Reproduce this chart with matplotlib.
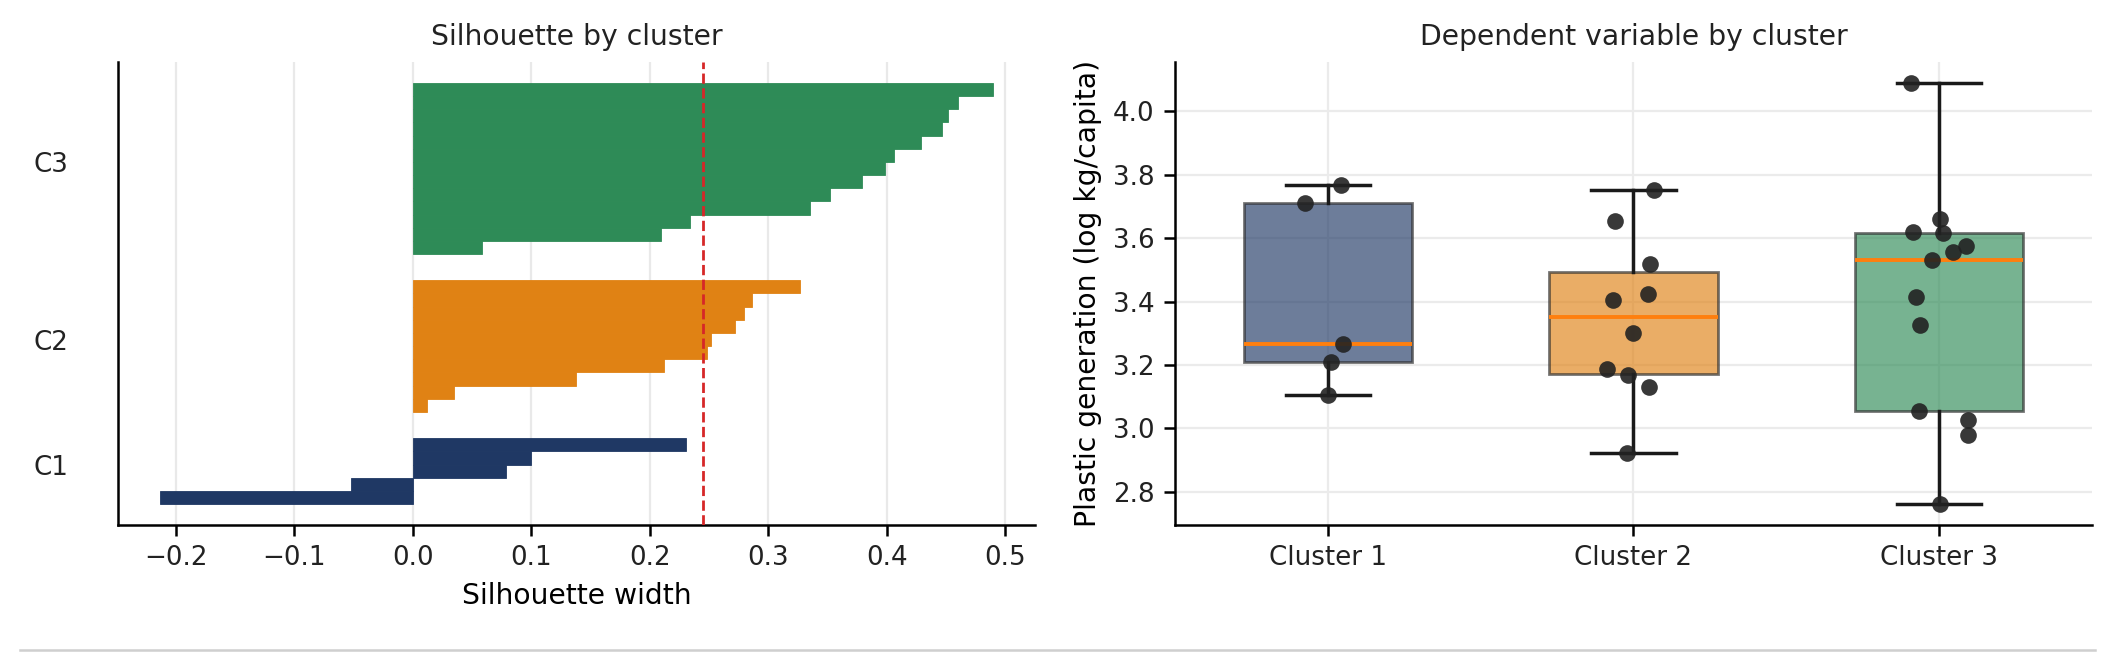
"""Silhouette widths and dependent variable per cluster (two panels)."""

import matplotlib

matplotlib.use("Agg")
import matplotlib.pyplot as plt
import numpy as np
from matplotlib.lines import Line2D

# Silhouette width per sample
sil_c1 = [0.231, 0.100, 0.079, -0.052, -0.2135]
sil_c2 = [0.327, 0.286, 0.280, 0.272, 0.252, 0.248, 0.212, 0.138, 0.035, 0.0125]
sil_c3 = [0.490, 0.460, 0.452, 0.4465, 0.429, 0.406, 0.399, 0.379, 0.352,
          0.335, 0.234, 0.2095, 0.0585]

# Plastic generation (log kg/capita) per country in each cluster
dep_c1 = [3.767, 3.711, 3.265, 3.211, 3.107]
dep_c2 = [3.752, 3.653, 3.518, 3.424, 3.404, 3.300, 3.186, 3.167, 3.130, 2.924]
dep_c3 = [4.089, 3.660, 3.618, 3.615, 3.575, 3.556, 3.532, 3.413, 3.325,
          3.055, 3.028, 2.978, 2.762]

# horizontal jitter of the strip points (category units)
jit_c1 = [0.044, -0.074, 0.049, 0.012, 0.0]
jit_c2 = [0.066, -0.062, 0.055, 0.049, -0.066, 0.0, -0.088, -0.018, 0.051, -0.022]
jit_c3 = [-0.091, 0.004, -0.084, 0.011, 0.088, 0.044, -0.024, -0.077, -0.062,
          -0.066, 0.093, 0.093, 0.004]

sil_labels = ["C1", "C2", "C3"]
box_labels = ["Cluster 1", "Cluster 2", "Cluster 3"]
colors = ["#1f3864", "#e08214", "#2e8b57"]

DPI = 200
plt.rcParams.update(
    {
        "font.family": "DejaVu Sans",
        "font.size": 10.2,
        "axes.titlesize": 10.2,
        "axes.labelsize": 10.2,
        "xtick.labelsize": 9.4,
        "ytick.labelsize": 9.4,
        "axes.linewidth": 0.9,
        "xtick.major.size": 3.8,
        "ytick.major.size": 3.8,
        "xtick.major.width": 0.9,
        "ytick.major.width": 0.9,
        "text.color": "#222222",
        "xtick.labelcolor": "#222222",
        "ytick.labelcolor": "#222222",
    }
)

fig = plt.figure(figsize=(2114 / DPI, 670 / DPI), dpi=DPI)
ax1 = fig.add_axes([0.0558, 0.2164, 0.4338, 0.6911])
ax2 = fig.add_axes([0.5558, 0.2164, 0.4338, 0.6911])

# ---- left: silhouette plot
y_lower = 0
centers = []
for vals, col in zip([sil_c1, sil_c2, sil_c3], colors):
    v = np.sort(np.asarray(vals))
    ys = y_lower + np.arange(len(v))
    ax1.barh(ys, v, height=1.0, color=col, edgecolor=col, linewidth=0.3, zorder=2)
    centers.append(y_lower + len(v) / 2)
    y_lower += len(v) + 2

all_sil = np.concatenate([sil_c1, sil_c2, sil_c3])
ax1.axvline(all_sil.mean(), color="#d62728", linestyle="--", linewidth=1.0, zorder=3)
ax1.set_yticks(centers)
ax1.set_yticklabels(sil_labels)
ax1.tick_params(axis="y", length=0, pad=18)
ax1.grid(axis="x", color="#e9e9e9", linewidth=0.8)
ax1.set_axisbelow(True)
ax1.set_xlabel("Silhouette width")
ax1.set_title("Silhouette by cluster")

# ---- right: boxplot + strip
dep = [dep_c1, dep_c2, dep_c3]
jit = [jit_c1, jit_c2, jit_c3]
bp = ax2.boxplot(
    dep,
    positions=[1, 2, 3],
    widths=0.55,
    patch_artist=True,
    showfliers=False,
    medianprops=dict(color="#ff7f0e", linewidth=1.4),
    whiskerprops=dict(color="#1a1a1a", linewidth=1.25),
    capprops=dict(color="#1a1a1a", linewidth=1.25),
    boxprops=dict(edgecolor="#2a2a2a", linewidth=1.0),
)
for patch, col in zip(bp["boxes"], colors):
    patch.set_facecolor(col)
    patch.set_alpha(0.65)
    patch.set_edgecolor("#2a2a2a")

for i, (vals, jj) in enumerate(zip(dep, jit)):
    xs = (i + 1) + np.asarray(jj)
    ax2.scatter(xs, vals, s=36, color="#222222", alpha=0.9, zorder=4, linewidths=0)

ax2.set_xticks([1, 2, 3])
ax2.set_xticklabels(box_labels)
ax2.grid(True, color="#ebebeb", linewidth=0.8)
ax2.set_axisbelow(True)
ax2.set_ylabel("Plastic generation (log kg/capita)")
ax2.set_title("Dependent variable by cluster")

for ax in (ax1, ax2):
    ax.spines["top"].set_visible(False)
    ax.spines["right"].set_visible(False)

# thin rule under the figure
fig.add_artist(Line2D([0.0095, 0.991], [1 - 650 / 670] * 2, transform=fig.transFigure,
                      color="#cfcfcf", linewidth=0.9))

fig.savefig("out.png", dpi=DPI)
